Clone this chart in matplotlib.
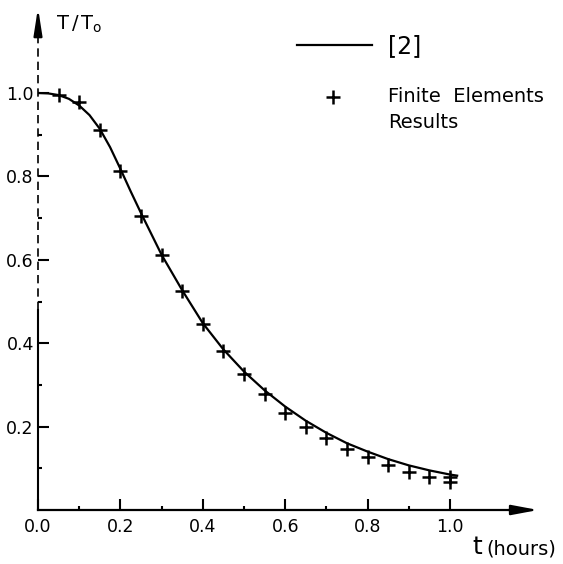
import matplotlib
matplotlib.use("Agg")
import matplotlib.pyplot as plt
from matplotlib.lines import Line2D

# ---- data ----
curve_t = [0.0, 0.025, 0.05, 0.075, 0.1, 0.125, 0.15, 0.175, 0.2, 0.225, 0.25, 0.3, 0.35, 0.4,
           0.45, 0.5, 0.55, 0.6, 0.65, 0.7, 0.75, 0.8, 0.85, 0.9, 0.95, 1.0, 1.02]
curve_v = [1.0, 0.999, 0.995, 0.986, 0.970, 0.947, 0.914, 0.870, 0.818, 0.764, 0.712, 0.612, 0.527, 0.448,
           0.385, 0.332, 0.287, 0.248, 0.214, 0.185, 0.160, 0.140, 0.122, 0.107, 0.095, 0.085, 0.082]

fe_t = [0.05, 0.1, 0.15, 0.2, 0.25, 0.3, 0.35, 0.4, 0.45, 0.5, 0.55, 0.6, 0.65, 0.7,
        0.75, 0.8, 0.85, 0.9, 0.95, 1.0, 1.0]
fe_v = [0.995, 0.978, 0.912, 0.812, 0.705, 0.612, 0.525, 0.446, 0.382, 0.327, 0.278, 0.233,
        0.199, 0.172, 0.147, 0.126, 0.108, 0.090, 0.078, 0.078, 0.066]

x_major = [0.0, 0.2, 0.4, 0.6, 0.8, 1.0]
x_labels = ["0.0", "0.2", "0.4", "0.6", "0.8", "1.0"]
x_minor = [0.1, 0.3, 0.5, 0.7, 0.9]
y_major = [0.2, 0.4, 0.6, 0.8, 1.0]
y_labels = ["0.2", "0.4", "0.6", "0.8", "1.0"]
y_minor = [0.1, 0.3, 0.5, 0.7, 0.9]

W, H = 563, 564
fig = plt.figure(figsize=(W / 100, H / 100), dpi=100)
fig.patch.set_facecolor("white")

def fx(px):
    return px / W

def fy(py):
    return 1 - py / H

x0, x1 = 38, 541
y0, y1 = 510, 5
ax = fig.add_axes([fx(x0), fy(y0), (x1 - x0) / W, (y0 - y1) / H])
ax.set_xlim(0, (x1 - x0) / 412.0)
ax.set_ylim(0, (y0 - y1) / 417.0)
for s in ax.spines.values():
    s.set_visible(False)
ax.patch.set_alpha(0)

# curve and markers
ax.plot(curve_t, curve_v, color="black", lw=1.6, solid_capstyle="butt")
ax.plot(fe_t, fe_v, linestyle="none", marker="+", color="black", markersize=9.5, markeredgewidth=1.8)

# axes with arrows
ax.plot([0, 1.19], [0, 0], color="black", lw=1.6, clip_on=False)
ax.annotate("", xy=(1.0, 0), xycoords=("axes fraction", "data"),
            xytext=(0.93, 0), textcoords=("axes fraction", "data"),
            arrowprops=dict(arrowstyle="-|>,head_length=1.6,head_width=0.3", color="black", lw=1.6),
            annotation_clip=False)
ax.plot([0, 0], [0, 0.48], color="black", lw=1.5, clip_on=False)
ax.plot([0, 0], [0.48, 1.17], color="black", lw=1.2, clip_on=False, linestyle=(0, (5, 3)))
ax.annotate("", xy=(0, 1.0), xycoords=("data", "axes fraction"),
            xytext=(0, 0.94), textcoords=("data", "axes fraction"),
            arrowprops=dict(arrowstyle="-|>,head_length=1.6,head_width=0.25", color="black", lw=1.6),
            annotation_clip=False)

# ticks
ax.set_xticks(x_major)
ax.set_xticklabels(x_labels)
ax.set_xticks(x_minor, minor=True)
ax.set_yticks(y_major)
ax.set_yticklabels(y_labels)
ax.set_yticks(y_minor, minor=True)
ax.tick_params(axis="both", which="major", direction="in", length=8, width=1.5, labelsize=12.5, pad=6)
ax.tick_params(axis="both", which="minor", direction="in", length=3, width=1.5)
ax.tick_params(axis="y", which="major", pad=3)

# axis labels
fig.text(fx(56), fy(24), r"$\mathregular{T\,/\,T_o}$", fontsize=14, ha="left", va="center")
fig.text(fx(477), fy(547), "t", fontsize=18, ha="center", va="center")
fig.text(fx(486), fy(549), "(hours)", fontsize=14, ha="left", va="center")

# legend
fig.add_artist(Line2D([fx(297), fx(372)], [fy(45), fy(45)], color="black", lw=1.6))
fig.text(fx(388), fy(46), "[2]", fontsize=17, ha="left", va="center")
fig.add_artist(Line2D([fx(333)], [fy(97)], marker="+", color="black", markersize=9.5,
                      markeredgewidth=1.8, linestyle="none"))
fig.text(fx(388), fy(97), "Finite  Elements", fontsize=14, ha="left", va="center")
fig.text(fx(388), fy(123), "Results", fontsize=14, ha="left", va="center")

fig.savefig("out.png", dpi=100, facecolor="white")
